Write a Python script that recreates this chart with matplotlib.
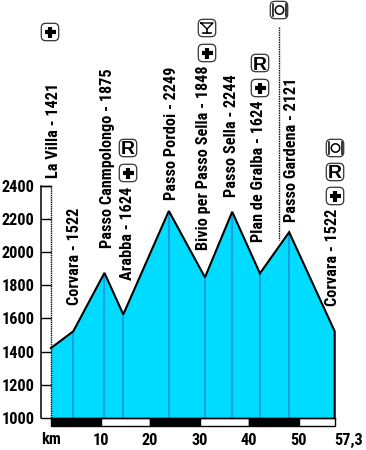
import matplotlib
matplotlib.use("Agg")
import matplotlib.pyplot as plt
from matplotlib.patches import FancyBboxPatch, Circle
from matplotlib.lines import Line2D
from matplotlib.transforms import IdentityTransform

km = [0, 4.5, 10.8, 14.6, 23.8, 31.1, 36.6, 42.2, 48.1, 57.3]
alt = [1421, 1522, 1875, 1624, 2249, 1848, 2244, 1872, 2121, 1522]
labels = ["La Villa - 1421", "Corvara - 1522", "Passo Canmpolongo - 1875", "Arabba - 1624",
          "Passo Pordoi - 2249", "Bivio per Passo Sella - 1848", "Passo Sella - 2244",
          "Plan de Gralba - 1624", "Passo Gardena - 2121", "Corvara - 1522"]
label_px = [(53.5, 178), (74.5, 305), (107.5, 248), (127.5, 280), (171, 200), (203.5, 250),
            (231.5, 197), (258.5, 242), (291.5, 222), (332.5, 306)]
y_ticks = [1000, 1200, 1400, 1600, 1800, 2000, 2200, 2400]
x_ticks = [10, 20, 30, 40, 50]
scale_edges = [0, 10, 20, 30, 40, 50, 57.3]
icons = [("+", 50, 32), ("R", 128, 148), ("+", 128, 173), ("glass", 207, 28), ("+", 207, 53),
         ("R", 260, 63), ("+", 260, 88), ("fork", 279, 10), ("fork", 335, 148), ("R", 335, 172), ("+", 335, 196)]

W, H = 366, 450
plt.rcParams["font.family"] = ["Roboto Condensed", "DejaVu Sans"]
plt.rcParams["font.weight"] = "bold"
FS = 11.7

fig = plt.figure(figsize=(W / 100, H / 100), dpi=100)
L, R, T, B = 51, 334.7, 186, 417.7
ax = fig.add_axes([L / W, 1 - B / H, (R - L) / W, (B - T) / H])
ax.set_xlim(0, 57.3)
ax.set_ylim(1000, 2400)
ax.patch.set_visible(False)
for s in ["top", "right", "bottom"]:
    ax.spines[s].set_visible(False)
ax.spines["left"].set_position(("outward", 7.0))
ax.spines["left"].set_linewidth(1.1)
ax.set_yticks(y_ticks)
ax.tick_params(axis="y", direction="in", length=7.2, width=1.0, pad=5, labelsize=FS)
ax.set_xticks(x_ticks)
ax.set_xticklabels([str(v) for v in x_ticks])
ax.tick_params(axis="x", length=0, pad=11, labelsize=FS)

# elevation profile
ax.fill_between(km, alt, 1000, color="#00dcff", lw=0, zorder=1)
ax.vlines(km[1:-1], 1000, alt[1:-1], color="#1e9be0", lw=1.4, zorder=2)
ax.plot(km + [km[-1]], alt + [1000], color="black", lw=1.5, zorder=3, clip_on=False, solid_joinstyle="miter")

# left frame of the altitude strip
ax.plot([0, 0], [1000, 2400], color="black", lw=1.0, ls=(0, (1, 0.6)), clip_on=False, zorder=3)
ax.axhline(2400, xmin=-10 / (R - L), xmax=0, color="black", lw=1.0, clip_on=False)
ax.axhline(1000, xmin=0, xmax=1, color="black", lw=1.0, clip_on=False, zorder=3)

# km scale bar
for i in range(len(scale_edges) - 1):
    ax.bar(scale_edges[i], -50, width=scale_edges[i + 1] - scale_edges[i], bottom=1000, align="edge",
           color="black" if i % 2 == 0 else "white", edgecolor="black", lw=1.0, clip_on=False, zorder=2)

tr = IdentityTransform()


def px(x, y):
    return x, H - y


fig.text(51 / W, 1 - 440 / H, "km", ha="center", va="center", fontsize=FS)
fig.text(349 / W, 1 - 440 / H, "57,3", ha="center", va="center", fontsize=FS)

for t, (x, y) in zip(labels, label_px):
    fig.text(x / W, 1 - y / H, t, rotation=90, ha="left", va="center", fontsize=FS, rotation_mode="anchor")

# Gardena restaurant leader
fig.add_artist(Line2D([279 / W, 279 / W], [1 - 27 / H, 1 - 240 / H], color="black", lw=1.0, ls=(0, (1, 0.7))))

for kind, x, y in icons:
    cx, cy = px(x, y)
    fig.add_artist(FancyBboxPatch((cx - 6.5, cy - 6.5), 13, 13, boxstyle="round,pad=2.2,rounding_size=4.5",
                                  fc="white", ec="#333333", lw=0.9, transform=tr))
    if kind == "+":
        fig.add_artist(Line2D([cx - 5.5, cx + 5.5], [cy, cy], color="black", lw=3.0, transform=tr, solid_capstyle="butt"))
        fig.add_artist(Line2D([cx, cx], [cy - 5.5, cy + 5.5], color="black", lw=3.0, transform=tr, solid_capstyle="butt"))
    elif kind == "R":
        fig.text(cx / W, cy / H, "R", ha="center", va="center_baseline", fontsize=14,
                 family=["Liberation Sans", "DejaVu Sans"])
    elif kind == "glass":
        fig.add_artist(Line2D([cx - 6, cx + 6, cx, cx - 6], [cy + 5, cy + 5, cy - 1, cy + 5], color="black", lw=1, transform=tr))
        fig.add_artist(Line2D([cx, cx], [cy - 5, cy - 1], color="black", lw=1.2, transform=tr))
        fig.add_artist(Line2D([cx - 4, cx + 4], [cy - 5, cy - 5], color="black", lw=1.2, transform=tr))
    else:
        fig.add_artist(Circle((cx + 0.5, cy), 4.2, fc="white", ec="black", lw=1.1, transform=tr))
        fig.add_artist(Line2D([cx - 6.5, cx - 6.5], [cy - 6, cy + 6], color="black", lw=1.1, transform=tr))
        fig.add_artist(Line2D([cx + 6.5, cx + 6.5], [cy - 6, cy + 6], color="black", lw=1.1, transform=tr))

fig.savefig("out.png", dpi=100)
